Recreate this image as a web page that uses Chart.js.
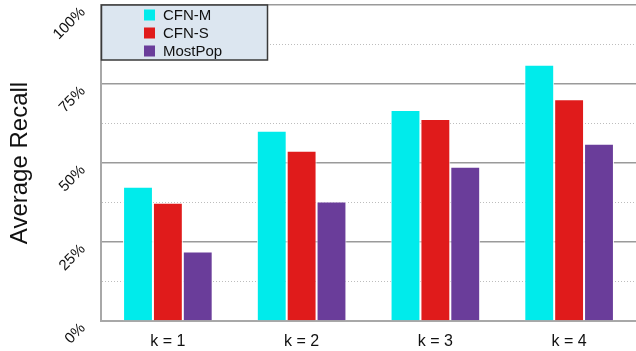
<!DOCTYPE html>
<html>
<head>
<meta charset="utf-8">
<script src="https://cdn.jsdelivr.net/npm/chart.js@4"></script>
<style>
  html, body { margin: 0; padding: 0; background: #fff; }
  #wrap { width: 636px; height: 351px; }
</style>
</head>
<body>
<div id="wrap"><canvas id="recallChart" width="636" height="351"></canvas></div>
<script>
const categories = ["k = 1", "k = 2", "k = 3", "k = 4"];
const seriesNames = ["CFN-M", "CFN-S", "MostPop"];
const cfnM = [42.5, 60.2, 66.8, 81.1];
const cfnS = [37.4, 53.9, 63.9, 70.2];
const mostPop = [22.0, 37.8, 48.8, 56.1];
const yTicks = [0, 25, 50, 75, 100];
const colors = ["#00ebeb", "#e01b1b", "#6a3d9a"];

const FONT = "'Liberation Sans', Arial, Helvetica, sans-serif";

// legend drawn inside the plot, with the blue-grey box
const boxLegend = {
    id: "boxLegend",
    afterDraw(chart) {
        const ctx = chart.ctx;
        const a = chart.chartArea;
        const x = a.left, y = a.top, w = 166, h = 55;
        ctx.save();
        ctx.fillStyle = "#dce6f0";
        ctx.fillRect(x, y, w, h);
        ctx.strokeStyle = "#3a3a3a";
        ctx.lineWidth = 1.5;
        ctx.strokeRect(x + 0.5, y, w, h);
        ctx.font = "15px " + FONT;
        ctx.textBaseline = "middle";
        chart.data.datasets.forEach((ds, i) => {
            const cy = y + 10 + i * 18;
            ctx.fillStyle = ds.backgroundColor;
            ctx.fillRect(x + 43, cy - 5.5, 11, 11);
            ctx.fillStyle = "#111";
            ctx.fillText(ds.label, x + 62, cy + 0.5);
        });
        ctx.restore();
    }
};

const datasets = [cfnM, cfnS, mostPop].map((vals, i) => ({
    label: seriesNames[i],
    data: vals,
    backgroundColor: colors[i],
    borderColor: "#ffffff",
    borderWidth: 1,
    categoryPercentage: 0.67,
    barPercentage: 1.0
}));

new Chart(document.getElementById("recallChart").getContext("2d"), {
    type: "bar",
    data: { labels: categories, datasets: datasets },
    options: {
        responsive: false,
        animation: false,
        layout: { padding: { top: 5, right: 0, left: 0, bottom: 0 } },
        plugins: {
            legend: { display: false },
            tooltip: { enabled: false }
        },
        scales: {
            x: {
                grid: { display: false },
                border: { display: true, color: "#a8a8a8", width: 2 },
                ticks: { color: "#111", font: { family: FONT, size: 16 }, padding: 3 },
                afterFit: s => {
                    s.height = 30;
                    s.paddingLeft = 0;
                    s.paddingRight = 0;
                }
            },
            y: {
                min: 0,
                max: 100,
                afterBuildTicks: s => {
                    // majors plus dotted half-steps
                    const t = [];
                    yTicks.forEach((v, i) => {
                        t.push({ value: v });
                        if (i < yTicks.length - 1) t.push({ value: (v + yTicks[i + 1]) / 2 });
                    });
                    s.ticks = t;
                },
                grid: {
                    drawTicks: false,
                    color: c => (c.tick && yTicks.includes(c.tick.value)) ? "#9a9a9a" : "#bdbdbd",
                    lineWidth: c => (c.tick && yTicks.includes(c.tick.value)) ? 1.5 : 1
                },
                border: {
                    display: true,
                    color: "#a8a8a8",
                    width: 2,
                    dash: c => (c.tick && !yTicks.includes(c.tick.value)) ? [1, 2] : []
                },
                ticks: {
                    color: "#111",
                    font: { family: FONT, size: 15 },
                    minRotation: 45,
                    maxRotation: 45,
                    padding: 18,
                    labelOffset: 5,
                    callback: v => yTicks.includes(v) ? v + "%" : ""
                },
                title: {
                    display: true,
                    text: "Average Recall",
                    color: "#111",
                    font: { family: FONT, size: 24 },
                    padding: { top: 6, bottom: 0 }
                },
                afterFit: s => {
                    s.width = 101;
                    s.paddingTop = 0;
                    s.paddingBottom = 0;
                }
            }
        }
    },
    plugins: [boxLegend]
});
</script>
</body>
</html>
